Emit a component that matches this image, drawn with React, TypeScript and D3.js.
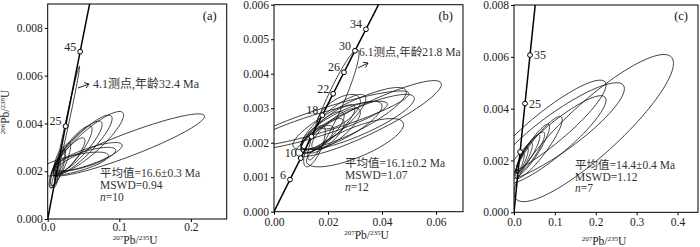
import { useEffect, useRef } from "react";
import * as d3 from "d3";

// [cx, cy, half-range x, half-range y, rho] for each 207Pb/235U vs 206Pb/238U error ellipse
type Ell = [number, number, number, number, number];

const ellipsesA: Ell[] = [
  [0.112, 0.0031, 0.107, 0.0013, 0.92],
  [0.027, 0.004, 0.0175, 0.0024, 0.99],
  [0.058, 0.0032, 0.048, 0.0013, 0.88],
  [0.049, 0.0031, 0.041, 0.00125, 0.88],
  [0.042, 0.003, 0.034, 0.0011, 0.87],
  [0.036, 0.0029, 0.026, 0.001, 0.85],
  [0.056, 0.0026, 0.048, 0.0006, 0.8],
  [0.052, 0.0025, 0.043, 0.0005, 0.75],
  [0.035, 0.0023, 0.05, 0.0005, 0.7],
  [0.03, 0.0026, 0.022, 0.0008, 0.85],
  [0.018, 0.0023, 0.014, 0.0009, 0.85],
  [0.014, 0.0021, 0.011, 0.0008, 0.8],
  [0.01, 0.0019, 0.008, 0.0006, 0.75],
  [0.016, 0.0024, 0.008, 0.0006, 0.7],
  [0.01, 0.0016, 0.004, 0.0003, 0.5],
];

const ellipsesB: Ell[] = [
  [0.022, 0.0031, 0.0095, 0.0016, 0.93],
  [0.035, 0.0027, 0.027, 0.0011, 0.9],
  [0.031, 0.0026, 0.021, 0.0008, 0.85],
  [0.03, 0.002, 0.018, 0.0007, 0.75],
  [0.02, 0.0027, 0.03, 0.0008, 0.9],
  [0.016, 0.0025, 0.026, 0.0007, 0.88],
  [0.028, 0.0027, 0.021, 0.0009, 0.85],
  [0.022, 0.0026, 0.012, 0.0008, 0.85],
  [0.02, 0.0024, 0.01, 0.0007, 0.85],
  [0.025, 0.0025, 0.015, 0.0007, 0.8],
  [0.018, 0.0023, 0.008, 0.0006, 0.8],
  [0.024, 0.0029, 0.008, 0.0005, 0.6],
  [0.016, 0.0021, 0.006, 0.0004, 0.7],
  [0.019, 0.0022, 0.007, 0.0005, 0.75],
  [0.023, 0.0024, 0.009, 0.0006, 0.8],
  [0.015, 0.0019, 0.004, 0.0006, 0.7],
];

const ellipsesC: Ell[] = [
  [0.195, 0.00325, 0.195, 0.00284, 0.88],
  [0.11, 0.0031, 0.16, 0.0019, 0.88],
  [0.08, 0.0032, 0.145, 0.0019, 0.9],
  [0.1, 0.0028, 0.125, 0.0017, 0.9],
  [0.06, 0.0025, 0.058, 0.0012, 0.9],
  [0.045, 0.0024, 0.042, 0.001, 0.9],
  [0.04, 0.0023, 0.035, 0.0008, 0.88],
  [0.035, 0.0023, 0.028, 0.0007, 0.88],
  [0.025, 0.0021, 0.02, 0.0006, 0.85],
  [0.02, 0.002, 0.015, 0.0005, 0.85],
  [0.015, 0.0019, 0.01, 0.0004, 0.8],
];

// concordia age marks (Ma) and the labels printed beside them
const markerAgesA = [25, 45];
const markerLabelsA = ["25", "45"];
const markerAgesB = [6, 10, 14, 18, 22, 26, 30, 34];
const markerLabelsB = ["6", "10", "", "18", "22", "26", "30", "34"];
const markerAgesC = [15, 27, 39];
const markerLabelsC = ["", "25", "35"];

const xTicksA = [0, 0.1, 0.2];
const yTicksA = [0, 0.002, 0.004, 0.006, 0.008];
const xTicksB = [0, 0.02, 0.04, 0.06];
const yTicksB = [0, 0.001, 0.002, 0.003, 0.004, 0.005, 0.006];
const xTicksC = [0, 0.1, 0.2, 0.3, 0.4];
const yTicksC = [0, 0.002, 0.004, 0.006, 0.008];

const statsA = ["平均值=16.6±0.3 Ma", "MSWD=0.94", "10"];
const statsB = ["平均值=16.1±0.2 Ma", "MSWD=1.07", "12"];
const statsC = ["平均值=14.4±0.4 Ma", "MSWD=1.12", "7"];

const noteA = "4.1测点,年龄32.4 Ma";
const noteB = "6.1测点,年龄21.8 Ma";

const L238 = 1.55125e-4; // per Ma
const L235 = 9.8485e-4;

const FONT = "Liberation Serif, Times New Roman, Noto Sans CJK SC, serif";

interface Panel {
  id: string;
  tag: string;
  left: number;
  right: number;
  top: number;
  bottom: number;
  xDomain: [number, number];
  yDomain: [number, number];
  xTicks: number[];
  yTicks: number[];
  xFmt: string;
  xPad: number;
  ellipses: Ell[];
  ages: number[];
  ageLabels: string[];
  labelSide: "left" | "right";
  stats: string[];
  statsX: number;
  statsY: number;
  statsGap: number;
  xLabelY: number;
  note?: { text: string; x: number; y: number; size: number; arrow: [number, number, number, number] };
}

const panels: Panel[] = [
  {
    id: "a", tag: "(a)", left: 47.7, right: 226.7, top: 4, bottom: 219,
    xDomain: [0, 0.25], yDomain: [0, 0.009], xTicks: xTicksA, yTicks: yTicksA, xFmt: ".1f", xPad: 1,
    ellipses: ellipsesA, ages: markerAgesA, ageLabels: markerLabelsA, labelSide: "left",
    stats: statsA, statsX: 100, statsY: 176.5, statsGap: 12.3, xLabelY: 244,
    note: { text: noteA, x: 93, y: 87.5, size: 12, arrow: [78, 88, 89, 84] },
  },
  {
    id: "b", tag: "(b)", left: 274, right: 463, top: 4.7, bottom: 211.7,
    xDomain: [0, 0.07], yDomain: [0, 0.006], xTicks: xTicksB, yTicks: yTicksB, xFmt: ".2f", xPad: 3,
    ellipses: ellipsesB, ages: markerAgesB, ageLabels: markerLabelsB, labelSide: "left",
    stats: statsB, statsX: 345, statsY: 166.5, statsGap: 12, xLabelY: 239,
    note: { text: noteB, x: 359, y: 55.5, size: 11.5, arrow: [358, 68, 368, 63] },
  },
  {
    id: "c", tag: "(c)", left: 514, right: 698, top: 5, bottom: 212.3,
    xDomain: [0, 0.45], yDomain: [0, 0.008], xTicks: xTicksC, yTicks: yTicksC, xFmt: ".1f", xPad: 3,
    ellipses: ellipsesC, ages: markerAgesC, ageLabels: markerLabelsC, labelSide: "right",
    stats: statsC, statsX: 575, statsY: 169, statsGap: 11.7, xLabelY: 245,
  },
];

function isoLabel(sel: d3.Selection<SVGTextElement, unknown, null, undefined>, a: string, el: string, b: string, u: string) {
  sel.append("tspan").attr("font-size", 7).attr("dy", -4).text(a);
  sel.append("tspan").attr("dy", 4).text(el + "/");
  sel.append("tspan").attr("font-size", 7).attr("dy", -4).text(b);
  sel.append("tspan").attr("dy", 4).text(u);
}

function drawPanel(svg: d3.Selection<SVGSVGElement, unknown, null, undefined>, p: Panel) {
  const x = d3.scaleLinear().domain(p.xDomain).range([p.left, p.right]);
  const y = d3.scaleLinear().domain(p.yDomain).range([p.bottom, p.top]);

  svg.append("defs").append("clipPath").attr("id", `clip-${p.id}`)
    .append("rect")
    .attr("x", p.left).attr("y", p.top)
    .attr("width", p.right - p.left).attr("height", p.bottom - p.top);

  const plot = svg.append("g").attr("clip-path", `url(#clip-${p.id})`);
  const line = d3.line<[number, number]>().x((d) => x(d[0])).y((d) => y(d[1]));

  // error ellipses
  p.ellipses.forEach(([cx, cy, ex, ey, rho]) => {
    const s = Math.sqrt(1 - rho * rho);
    const pts = d3.range(0, 96).map((i) => {
      const t = (i / 96) * Math.PI * 2;
      return [cx + ex * Math.cos(t), cy + ey * (rho * Math.cos(t) + s * Math.sin(t))] as [number, number];
    });
    plot.append("path")
      .attr("d", line.curve(d3.curveLinearClosed)(pts))
      .attr("fill", "none")
      .attr("stroke", "#111")
      .attr("stroke-width", 0.8);
  });

  // concordia
  const tMax = Math.log(1 + p.yDomain[1] * 1.05) / L238;
  const conc = d3.range(0, 201).map((i) => {
    const t = (i / 200) * tMax;
    return [Math.exp(L235 * t) - 1, Math.exp(L238 * t) - 1] as [number, number];
  });
  plot.append("path")
    .attr("d", line.curve(d3.curveLinear)(conc))
    .attr("fill", "none")
    .attr("stroke", "#000")
    .attr("stroke-width", 1.5);

  // age marks
  p.ages.forEach((t, i) => {
    const mx = x(Math.exp(L235 * t) - 1);
    const my = y(Math.exp(L238 * t) - 1);
    svg.append("circle").attr("cx", mx).attr("cy", my).attr("r", 2.4)
      .attr("fill", "#fff").attr("stroke", "#000").attr("stroke-width", 1);
    const lbl = p.ageLabels[i];
    if (!lbl) return;
    svg.append("text")
      .attr("x", p.labelSide === "left" ? mx - 4 : mx + 4)
      .attr("y", p.labelSide === "left" ? my - 1 : my + 4)
      .attr("text-anchor", p.labelSide === "left" ? "end" : "start")
      .attr("font-family", FONT).attr("font-size", 12).attr("fill", "#222")
      .text(lbl);
  });

  // frame
  svg.append("rect")
    .attr("x", p.left).attr("y", p.top)
    .attr("width", p.right - p.left).attr("height", p.bottom - p.top)
    .attr("fill", "none").attr("stroke", "#000").attr("stroke-width", 1);

  // axes
  const ax = svg.append("g")
    .attr("transform", `translate(0,${p.bottom})`)
    .call(d3.axisBottom(x).tickValues(p.xTicks).tickFormat(d3.format(p.xFmt)).tickSize(3).tickPadding(p.xPad));
  const ay = svg.append("g")
    .attr("transform", `translate(${p.left},0)`)
    .call(d3.axisLeft(y).tickValues(p.yTicks).tickFormat(d3.format(".3f")).tickSize(3).tickPadding(2));
  [ax, ay].forEach((a) => {
    a.attr("font-family", FONT).attr("font-size", 11.5);
    a.select(".domain").remove();
    a.selectAll("line").attr("stroke", "#000");
    a.selectAll("text").attr("fill", "#222");
  });

  // x-axis title
  const xt = svg.append("text")
    .attr("x", (p.left + p.right) / 2 - 2).attr("y", p.xLabelY)
    .attr("text-anchor", "middle")
    .attr("font-family", FONT).attr("font-size", 11.5).attr("fill", "#222");
  isoLabel(xt, "207", "Pb", "235", "U");

  // panel tag
  svg.append("text")
    .attr("x", p.right - 10).attr("y", 19.5)
    .attr("text-anchor", "end")
    .attr("font-family", FONT).attr("font-size", 12.5).attr("fill", "#111")
    .text(p.tag);

  // statistics block
  const st = svg.append("g").attr("font-family", FONT).attr("font-size", 11.5).attr("fill", "#333");
  st.append("text").attr("x", p.statsX).attr("y", p.statsY).text(p.stats[0]);
  st.append("text").attr("x", p.statsX).attr("y", p.statsY + p.statsGap).text(p.stats[1]);
  const nt = st.append("text").attr("x", p.statsX).attr("y", p.statsY + p.statsGap * 2);
  nt.append("tspan").attr("font-style", "italic").text("n");
  nt.append("tspan").text("=" + p.stats[2]);

  // annotation with arrow
  if (p.note) {
    const [x1, y1, x2, y2] = p.note.arrow;
    svg.append("text")
      .attr("x", p.note.x).attr("y", p.note.y)
      .attr("font-family", FONT).attr("font-size", p.note.size).attr("fill", "#333")
      .text(p.note.text);
    svg.append("line")
      .attr("x1", x1).attr("y1", y1).attr("x2", x2).attr("y2", y2)
      .attr("stroke", "#222").attr("stroke-width", 1);
    const ang = Math.atan2(y2 - y1, x2 - x1);
    const h = 5;
    const p1 = [x2 - h * Math.cos(ang - 0.6), y2 - h * Math.sin(ang - 0.6)];
    const p2 = [x2 - h * Math.cos(ang + 0.6), y2 - h * Math.sin(ang + 0.6)];
    svg.append("path")
      .attr("d", `M${p1[0]},${p1[1]}L${x2},${y2}L${p2[0]},${p2[1]}`)
      .attr("fill", "none").attr("stroke", "#222").attr("stroke-width", 1);
  }
}

export default function App() {
  const svgRef = useRef<SVGSVGElement>(null);

  useEffect(() => {
    if (!svgRef.current) return;
    const svg = d3.select(svgRef.current);
    svg.selectAll("*").remove();

    panels.forEach((p) => drawPanel(svg, p));

    // y-axis title, only on the first panel
    const yt = svg.append("text")
      .attr("transform", "translate(9,112) rotate(-90)")
      .attr("text-anchor", "middle")
      .attr("font-family", FONT).attr("font-size", 11.5).attr("fill", "#222");
    isoLabel(yt, "206", "Pb", "238", "U");
  }, []);

  return (
    <svg
      ref={svgRef}
      width={700}
      height={247}
      style={{ position: "absolute", left: 0, top: 0, background: "#fff" }}
    />
  );
}
